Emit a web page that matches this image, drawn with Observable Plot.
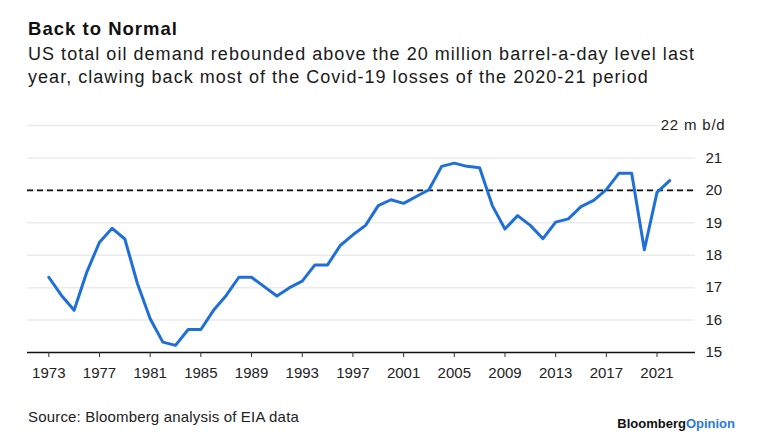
<!DOCTYPE html>
<html>
<head>
<meta charset="utf-8">
<script src="https://cdn.jsdelivr.net/npm/d3@7"></script>
<script src="https://cdn.jsdelivr.net/npm/@observablehq/plot@0.6"></script>
<style>
  html, body { margin: 0; padding: 0; background: #fff; }
  body { width: 758px; height: 446px; position: relative; overflow: hidden; font-family: "Liberation Sans", Arial, sans-serif; color: #111; }
  #title { position: absolute; left: 28px; top: 20px; font-size: 18.5px; line-height: 18.5px; font-weight: bold; white-space: nowrap; }
  #subtitle { position: absolute; left: 28px; top: 42.5px; font-size: 18px; line-height: 23px; white-space: nowrap; color: #1a1a1a; }
  #subtitle div { white-space: nowrap; }
  #chart { position: absolute; left: 0; top: 100px; }
  #chart .unit text { letter-spacing: 0.8px; }
  #source { position: absolute; left: 28px; top: 409px; font-size: 15px; line-height: 15px; color: #222; white-space: nowrap; }
  #brand { position: absolute; right: 23px; top: 417px; font-size: 13px; line-height: 13px; font-weight: bold; color: #111; white-space: nowrap; }
  #brand span { color: #2a7bd6; }
</style>
</head>
<body>
<div id="title"><span>Back to Normal</span></div>
<div id="subtitle"><div><span id="sub1">US total oil demand rebounded above the 20 million barrel-a-day level last</span></div><div><span id="sub2">year, clawing back most of the Covid-19 losses of the 2020-21 period</span></div></div>
<div id="chart"></div>
<div id="source"><span>Source: Bloomberg analysis of EIA data</span></div>
<div id="brand">Bloomberg<span>Opinion</span></div>
<script>
const years = d3.range(1973, 2023);
const demand = [
  17.32, 16.76, 16.30, 17.48, 18.40, 18.83, 18.50, 17.12, 16.04, 15.32,
  15.22, 15.71, 15.71, 16.30, 16.76, 17.32, 17.32, 17.03, 16.74, 17.00,
  17.20, 17.70, 17.70, 18.30, 18.63, 18.92, 19.53, 19.71, 19.60, 19.81,
  20.02, 20.74, 20.84, 20.74, 20.70, 19.53, 18.81, 19.22, 18.92, 18.51,
  19.02, 19.12, 19.50, 19.69, 20.02, 20.53, 20.53, 18.17, 19.94, 20.30
];
const yTicks = [15, 16, 17, 18, 19, 20, 21, 22];
const xTicks = d3.range(1973, 2022, 4);
const refLevel = 20;
const unitLabel = "22 m b/d";

// fit text tracking to reference widths
function fit(el, target) {
  const w = el.getBoundingClientRect().width;
  const n = el.textContent.length;
  el.style.letterSpacing = ((target - w) / n) + "px";
}
fit(document.querySelector("#title span"), 150);
const s1 = document.getElementById("sub1");
const w1 = s1.getBoundingClientRect().width;
const ls = (667 - w1) / s1.textContent.length;
document.getElementById("subtitle").style.letterSpacing = ls + "px";
fit(document.querySelector("#source span"), 271);

const data = years.map((y, i) => ({year: y, value: demand[i]}));

const chart = Plot.plot({
  width: 758,
  height: 300,
  marginLeft: 27,
  marginRight: 63,
  marginTop: 25,
  marginBottom: 48,
  style: {fontFamily: "Liberation Sans, Arial, sans-serif", fontSize: "15px", color: "#222", background: "transparent"},
  x: {domain: [1973, 2022], range: [48.3, 669.2]},
  y: {domain: [15, 22]},
  marks: [
    Plot.ruleY(yTicks.filter(d => d !== 15), {stroke: "#ebebeb", strokeWidth: 1.5}),
    Plot.ruleY([refLevel], {stroke: "#111", strokeWidth: 1.6, strokeDasharray: "6,4"}),
    Plot.ruleY([15], {stroke: "#111", strokeWidth: 1.5}),
    Plot.axisX({ticks: xTicks, tickFormat: d => String(d), tickSize: 5, tickPadding: 10, stroke: "#333", fill: "#222", fontSize: 15, label: null}),
    Plot.axisY({ticks: yTicks.filter(d => d !== 22), tickFormat: d => String(d), anchor: "right", tickSize: 0, tickPadding: 10, fill: "#222", fontSize: 15, label: null}),
    Plot.text([22], {y: d => d, text: () => unitLabel, frameAnchor: "right", dx: 30, textAnchor: "end", fill: "#222", fontSize: 15, stroke: "white", strokeWidth: 8, className: "unit"}),
    Plot.line(data, {x: "year", y: "value", stroke: "#1f6fd8", strokeWidth: 3, strokeLinejoin: "round", strokeLinecap: "round"})
  ]
});
document.getElementById("chart").appendChild(chart);
</script>
</body>
</html>
